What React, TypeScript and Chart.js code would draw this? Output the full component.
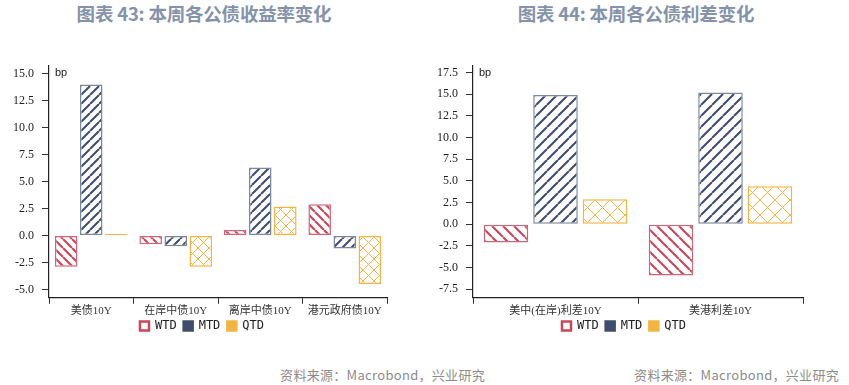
import React, { useEffect, useRef } from "react";
import { Chart, registerables } from "chart.js";
Chart.register(...registerables);

const seriesNames = ["WTD", "MTD", "QTD"];

const yieldCategories = ["美债10Y", "在岸中债10Y", "离岸中债10Y", "港元政府债10Y"];
const yieldWTD = [-2.9, -0.8, 0.5, 2.9];
const yieldMTD = [14.0, -1.0, 6.3, -1.2];
const yieldQTD = [0.15, -2.9, 2.7, -4.5];
const yieldTicks = [-5, -2.5, 0, 2.5, 5, 7.5, 10, 12.5, 15];

const spreadCategories = ["美中(在岸)利差10Y", "美港利差10Y"];
const spreadWTD = [-2.1, -5.9];
const spreadMTD = [14.9, 15.2];
const spreadQTD = [2.9, 4.4];
const spreadTicks = [-7.5, -5, -2.5, 0, 2.5, 5, 7.5, 10, 12.5, 15, 17.5];

const RED = "#c8475b";
const NAVY = "#414d6c";
const ORANGE = "#f2b544";
const RED_BORDER = "#cf6577";
const NAVY_BORDER = "#7d879e";
const ORANGE_BORDER = "#f2b544";

function stripePattern(color: string, size: number, dir: number, lw: number) {
  const c = document.createElement("canvas");
  c.width = size;
  c.height = size;
  const x = c.getContext("2d")!;
  x.fillStyle = "#ffffff";
  x.fillRect(0, 0, size, size);
  x.strokeStyle = color;
  x.lineWidth = lw;
  x.beginPath();
  for (let k = -1; k <= 1; k++) {
    if (dir > 0) {
      x.moveTo(k * size, size);
      x.lineTo(k * size + size, 0);
    } else {
      x.moveTo(k * size, 0);
      x.lineTo(k * size + size, size);
    }
  }
  x.stroke();
  return x.createPattern(c, "repeat")!;
}

function crossPattern(color: string, size: number) {
  const c = document.createElement("canvas");
  c.width = size;
  c.height = size;
  const x = c.getContext("2d")!;
  x.fillStyle = "#ffffff";
  x.fillRect(0, 0, size, size);
  x.strokeStyle = color;
  x.lineWidth = 1;
  x.beginPath();
  for (let k = -1; k <= 1; k++) {
    x.moveTo(k * size, size);
    x.lineTo(k * size + size, 0);
    x.moveTo(k * size, 0);
    x.lineTo(k * size + size, size);
  }
  x.stroke();
  return x.createPattern(c, "repeat")!;
}

const bpPlugin = {
  id: "bpLabel",
  afterLayout(chart: any) {
    const lg = chart.legend;
    if (lg) {
      lg.top -= 6;
      lg.bottom -= 6;
    }
  },
  afterDraw(chart: any) {
    const { ctx, chartArea } = chart;
    ctx.save();
    ctx.font = "11px 'Liberation Sans', sans-serif";
    ctx.fillStyle = "#222";
    ctx.textBaseline = "middle";
    ctx.textAlign = "left";
    ctx.fillText("bp", chartArea.left + 6, chartArea.top + 7.5);
    ctx.restore();
  },
};

type Props = {
  categories: string[];
  wtd: number[];
  mtd: number[];
  qtd: number[];
  ticks: number[];
  min: number;
  max: number;
  leftWidth: number;
  rightWidth: number;
  stripe: number;
  cross: number;
  catPct: number;
  left: number;
  width: number;
};

const CANVAS_TOP = 49.5;
const CANVAS_H = 298;

function BarChart(p: Props) {
  const ref = useRef<HTMLCanvasElement>(null);
  useEffect(() => {
    const fills = [
      stripePattern(RED, p.stripe, -1, 2.1),
      stripePattern(NAVY, p.stripe, 1, 2.1),
      crossPattern(ORANGE, p.cross),
    ];
    const borders = [RED_BORDER, NAVY_BORDER, ORANGE_BORDER];
    const legendFills = ["#ffffff", NAVY, ORANGE];
    const legendStrokes = [RED, NAVY, ORANGE];
    const values = [p.wtd, p.mtd, p.qtd];
    const chart = new Chart(ref.current!, {
      type: "bar",
      data: {
        labels: p.categories,
        datasets: seriesNames.map((name, i) => ({
          label: name,
          data: values[i],
          backgroundColor: fills[i] as any,
          borderColor: borders[i],
          borderWidth: 1.5,
          borderSkipped: false,
          barPercentage: 0.9,
          categoryPercentage: p.catPct,
        })),
      },
      options: {
        responsive: false,
        animation: false,
        layout: { padding: { top: 0, bottom: 0, left: 0, right: 0 } },
        plugins: {
          tooltip: { enabled: false },
          legend: {
            position: "bottom",
            labels: {
              boxWidth: 9,
              boxHeight: 9,
              padding: 7,
              color: "#222",
              font: { family: "'DejaVu Sans Mono', monospace", size: 12 },
              generateLabels: (c: any) =>
                c.data.datasets.map((ds: any, i: number) => ({
                  text: ds.label,
                  fillStyle: legendFills[i],
                  strokeStyle: legendStrokes[i],
                  lineWidth: 2.5,
                  hidden: false,
                  datasetIndex: i,
                  fontColor: "#222",
                })),
            },
          },
        },
        scales: {
          x: {
            offset: true,
            grid: {
              offset: true,
              drawOnChartArea: false,
              drawTicks: true,
              tickLength: 6,
              color: "#333",
            },
            border: { display: true, color: "#222", width: 1.2 },
            ticks: {
              padding: 1,
              color: "#333",
              maxRotation: 0,
              autoSkip: false,
              font: { family: "'Liberation Serif', 'Noto Sans CJK SC', serif", size: 11 },
            },
          },
          y: {
            min: p.min,
            max: p.max,
            afterBuildTicks: (s: any) => {
              s.ticks = p.ticks.map((v) => ({ value: v }));
            },
            afterFit: (s: any) => {
              s.width = p.leftWidth;
            },
            grid: {
              drawOnChartArea: false,
              drawTicks: true,
              tickLength: 7,
              color: "#333",
            },
            border: { display: true, color: "#222", width: 1.2 },
            ticks: {
              padding: 8,
              color: "#222",
              callback: (v: any) => Number(v).toFixed(1),
              font: { family: "'Liberation Serif', serif", size: 12 },
            },
          },
          yR: {
            position: "right",
            display: true,
            afterFit: (s: any) => {
              s.width = p.rightWidth;
            },
            grid: { display: false, drawTicks: false },
            border: { display: false },
            ticks: { display: false },
          },
        },
      },
      plugins: [bpPlugin],
    } as any);
    return () => chart.destroy();
  }, []);
  return (
    <canvas
      ref={ref}
      width={p.width}
      height={CANVAS_H}
      style={{ position: "absolute", left: p.left, top: CANVAS_TOP, width: p.width, height: CANVAS_H }}
    />
  );
}

const titleStyle: React.CSSProperties = {
  position: "absolute",
  top: 0,
  fontFamily: "'Noto Sans CJK SC', sans-serif",
  fontWeight: 700,
  fontSize: 18.5,
  color: "#8593aa",
  whiteSpace: "nowrap",
  transform: "translateX(-50%)",
  letterSpacing: -0.2,
};

const sourceStyle: React.CSSProperties = {
  position: "absolute",
  top: 365,
  fontFamily: "'Noto Sans CJK SC', sans-serif",
  fontSize: 13,
  color: "#8c8c8c",
  whiteSpace: "nowrap",
  transform: "translateX(-100%)",
  letterSpacing: 0.3,
};

export default function App() {
  return (
    <div
      style={{
        position: "fixed",
        left: 0,
        top: 0,
        width: 849,
        height: 385,
        background: "#fff",
        overflow: "hidden",
      }}
    >
      <div style={{ ...titleStyle, left: 204 }}>图表 43: 本周各公债收益率变化</div>
      <div style={{ ...titleStyle, left: 636 }}>图表 44: 本周各公债利差变化</div>
      <BarChart
        categories={yieldCategories}
        wtd={yieldWTD}
        mtd={yieldMTD}
        qtd={yieldQTD}
        ticks={yieldTicks}
        min={-5.77}
        max={15.78}
        leftWidth={49}
        rightWidth={17}
        stripe={9}
        cross={11}
        catPct={0.89}
        left={0}
        width={404}
      />
      <BarChart
        categories={spreadCategories}
        wtd={spreadWTD}
        mtd={spreadMTD}
        qtd={spreadQTD}
        ticks={spreadTicks}
        min={-8.48}
        max={18.35}
        leftWidth={58}
        rightWidth={30}
        stripe={11}
        cross={15}
        catPct={0.9}
        left={415}
        width={418}
      />
      <div style={{ ...sourceStyle, left: 485 }}>资料来源：Macrobond，兴业研究</div>
      <div style={{ ...sourceStyle, left: 839 }}>资料来源：Macrobond，兴业研究</div>
    </div>
  );
}
